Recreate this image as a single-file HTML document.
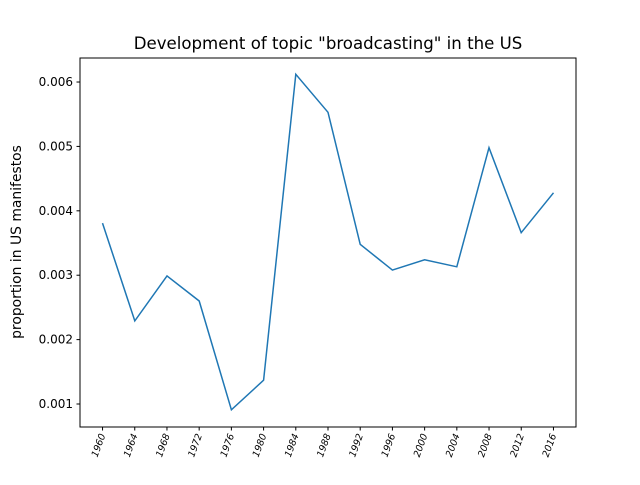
<!DOCTYPE html>
<html><head><meta charset="utf-8"><style>
body{margin:0;background:#fff;font-family:"Liberation Sans","DejaVu Sans",sans-serif}
</style></head><body>
<svg id="chart" width="640" height="480" xmlns="http://www.w3.org/2000/svg">
<rect width="640" height="480" fill="#fff"/>
<text x="328" y="49" text-anchor="middle" font-size="16.6" font-family="DejaVu Sans, Liberation Sans, sans-serif">Development of topic "broadcasting" in the US</text>
<text transform="translate(21,242) rotate(-90)" text-anchor="middle" font-size="13.9" font-family="DejaVu Sans, Liberation Sans, sans-serif">proportion in US manifestos</text>
<g id="ticks"></g>
<path id="line" fill="none" stroke="#1f77b4" stroke-width="1.5"/>
<rect x="80" y="58" width="496" height="369" fill="none" stroke="#000" stroke-width="1"/>
</svg>
<script>
const years = [1960,1964,1968,1972,1976,1980,1984,1988,1992,1996,2000,2004,2008,2012,2016];
const values = [0.00381,0.00229,0.00299,0.00260,0.00091,0.00137,0.00612,0.00553,0.00348,0.00308,0.00324,0.00313,0.00498,0.00366,0.00428];
const yTicks = [0.001,0.002,0.003,0.004,0.005,0.006];
const yTickLabels = ["0.001","0.002","0.003","0.004","0.005","0.006"];
const L=80,R=576,T=58,B=427;
const xMin=1957.2,xMax=2018.8,yMin=0.000643,yMax=0.006373;
function xs(v){return L+(v-xMin)/(xMax-xMin)*(R-L);}
function ys(v){return B-(v-yMin)/(yMax-yMin)*(B-T);}
const NS="http://www.w3.org/2000/svg";
const g=document.getElementById('ticks');
function mk(tag,attrs){const e=document.createElementNS(NS,tag);for(const k in attrs)e.setAttribute(k,attrs[k]);return e;}
yTicks.forEach((t,i)=>{
  const y=ys(t);
  const ln=mk('line',{x1:L-3.5,x2:L,y1:y,y2:y,stroke:'#000'});
  
  
  g.appendChild(ln);
  const tx=mk('text',{x:L-7,y:y+4,'text-anchor':'end','font-size':'12','font-family':'DejaVu Sans, Liberation Sans, sans-serif'});
  tx.textContent=yTickLabels[i];
  
  
  g.appendChild(tx);
});
years.forEach(yr=>{
  const x=xs(yr);
  const ln=mk('line',{x1:x,x2:x,y1:B,y2:B+3.5,stroke:'#000'});
  
  
  g.appendChild(ln);
  const tx=mk('text',{transform:`translate(${x+3},${B+8}) rotate(-70)`,'text-anchor':'end','font-size':'9.5','font-style':'italic','font-family':'DejaVu Sans, Liberation Sans, sans-serif'});
  tx.textContent=yr;
  
  
  g.appendChild(tx);
});
document.getElementById('line').setAttribute('d',years.map((yr,i)=>(i?'L':'M')+xs(yr).toFixed(1)+','+ys(values[i]).toFixed(1)).join(' '));
</script>
</body></html>
